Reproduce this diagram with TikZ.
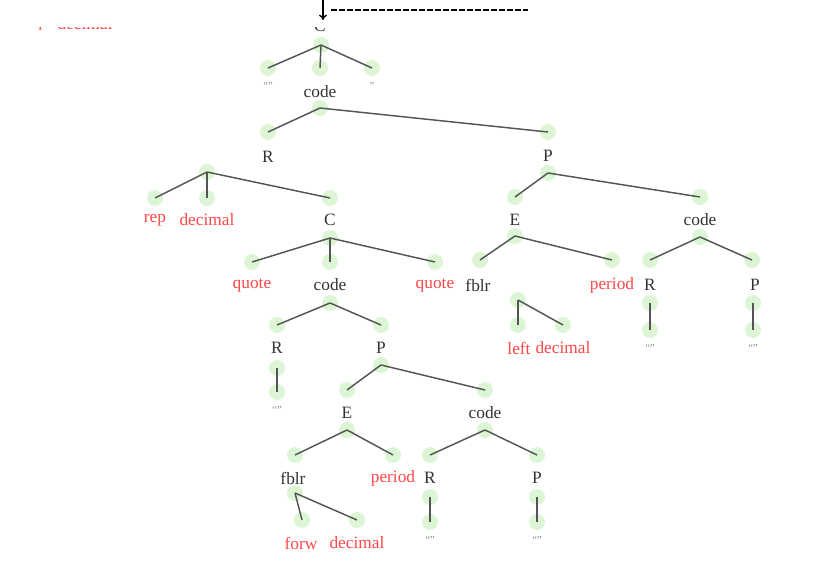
\documentclass[tikz,border=0pt]{standalone}
\usepackage{fontspec}
\setmainfont{Liberation Serif}
\usetikzlibrary{arrows.meta}
\definecolor{leafred}{HTML}{FF4747}
\definecolor{dotgreen}{HTML}{DCF6D5}
\definecolor{edgegray}{HTML}{555555}
\definecolor{labgray}{HTML}{333333}
\definecolor{quotegray}{HTML}{8C8C8C}

\begin{document}
\begin{tikzpicture}[x=0.75pt,y=-0.75pt,
  dot/.style={circle,fill=dotgreen,minimum size=12pt,inner sep=0pt},
  edge/.style={edgegray,line width=1.1pt},
  lab/.style={font=\fontsize{13}{15}\selectfont,text=labgray,inner sep=1pt},
  term/.style={lab,text=leafred},
  empty/.style={font=\fontsize{8}{9}\selectfont,text=quotegray,inner sep=1pt}]

\useasboundingbox (0,0) rectangle (822,571);

% cut-off parts at the top
\begin{scope}
  \clip (0,27) rectangle (822,571);
  \node[lab] (troot) at (320,26) {C};
  \node[term] (trepT) at (36,24) {rep};
  \node[term] (tdecT) at (85,24) {decimal};
\end{scope}

\coordinate (arrtop) at (323,0);
\coordinate (arrtip) at (323,20);
\coordinate (dashA) at (331,10);
\coordinate (dashB) at (528,10);
\draw[-{To[length=4pt,width=6pt]},line width=1pt] (arrtop) -- (arrtip);
\draw[line width=1.3pt,dash pattern=on 4.5pt off 1.5pt] (dashA) -- (dashB);

% green dots
\foreach \n/\x/\y in {root/321/45, q1in/268/68, codeAin/320/68, q2in/372/68,
    codeAout/320/108, rAin/268/132, pAin/548/132,
    rAout/207/172, repin/155/198, decAin/207/198, cBin/330/198,
    cBout/330/238, quoAin/252/262, codeBin/330/262, quoBin/435/262,
    codeBout/330/303, rBin/277/325, pBin/381/325,
    rBout/277/368, eqBin/277/392,
    pBout/381/365, eBin/347/390, codeCin/485/390,
    eBout/347/430, fbBin/295/455, perBin/393/455,
    fbBout/295/493, forwin/302/520, decBin/357/520,
    codeCout/485/430, rCin/430/455, pCin/537/455,
    rCout/430/497, eqCin/430/522, pCout/537/497, eqDin/537/522,
    pAout/548/173, eAin/515/197, codeDin/700/197,
    eAout/515/236, fbAin/480/260, perAin/612/260,
    fbAout/518/300, leftin/518/325, decCin/563/325,
    codeDout/700/237, rDin/650/260, pDin/752/260,
    rDout/650/303, eqEin/650/330, pDout/753/303, eqFin/753/330}
  \node[dot] (\n) at (\x,\y) {};

% edges
\foreach \a/\b in {root/q1in, root/codeAin, root/q2in,
    codeAout/rAin, codeAout/pAin,
    rAout/repin, rAout/decAin, rAout/cBin,
    cBout/quoAin, cBout/codeBin, cBout/quoBin,
    codeBout/rBin, codeBout/pBin, rBout/eqBin,
    pBout/eBin, pBout/codeCin,
    eBout/fbBin, eBout/perBin,
    fbBout/forwin, fbBout/decBin,
    codeCout/rCin, codeCout/pCin,
    rCout/eqCin, pCout/eqDin,
    pAout/eAin, pAout/codeDin,
    eAout/fbAin, eAout/perAin,
    fbAout/leftin, fbAout/decCin,
    codeDout/rDin, codeDout/pDin,
    rDout/eqEin, pDout/eqFin}
  \draw[edge] (\a.center) -- (\b.center);

% inner labels
\foreach \n/\x/\y/\t in {codeA/320/92/code, rA/268/157/R, pA/548/156/P,
    cB/330/220/C, codeB/330/285/code, rB/277/348/R, pB/381/348/P,
    eB/347/413/E, codeC/485/413/code, fbB/293/478/fblr,
    rC/430/478/R, pC/537/478/P,
    eA/515/220/E, codeD/700/220/code, fbA/478/285/fblr,
    rD/650/285/R, pD/755/285/P}
  \node[lab] (t\n) at (\x,\y) {\t};

% terminals
\foreach \n/\x/\y/\t in {rep/155/220/rep, decA/207/220/decimal,
    quoA/252/285/quote, quoB/435/285/quote,
    perB/393/478/period, forw/301/543/forw, decB/357/543/decimal,
    perA/612/285/period, left/519/348/left, decC/563/348/decimal}
  \node[term] (t\n) at (\x,\y) {\t};

% empty strings
\node[empty] (tq1) at (268,86) {\textquotedblleft\textquotedblright};
\node[empty] (tq2) at (372,86) {\textquotedblright};
\foreach \n/\x/\y in {eqB/277/410, eqC/430/540, eqD/537/540,
    eqE/650/348, eqF/753/348}
  \node[empty] (t\n) at (\x,\y) {\textquotedblleft\textquotedblright};

\end{tikzpicture}
\end{document}
